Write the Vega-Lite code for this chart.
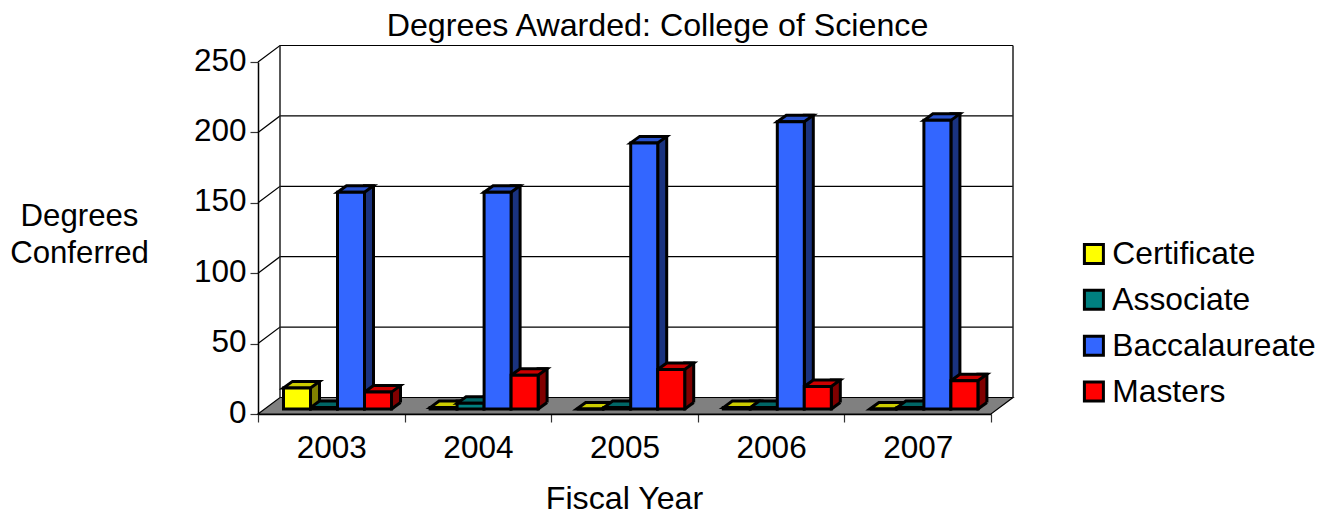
{"$schema":"https://vega.github.io/schema/vega-lite/v6.json","width":733,"height":352,"autosize":{"type":"none"},"padding":{"left":258,"top":62,"right":334,"bottom":102},"background":"white",
"config":{"view":{"stroke":null},"font":"Liberation Sans"},
"title":{"text":"Degrees Awarded: College of Science","font":"Liberation Sans","fontSize":32.2,"fontWeight":"normal","color":"black","anchor":"middle","dx":33,"dy":48.5,"offset":16,"baseline":"bottom"},
"data":{"values":[
{"year":"2003","level":"Certificate","value":15},{"year":"2003","level":"Associate","value":1},{"year":"2003","level":"Baccalaureate","value":154},{"year":"2003","level":"Masters","value":12},
{"year":"2004","level":"Certificate","value":1},{"year":"2004","level":"Associate","value":4},{"year":"2004","level":"Baccalaureate","value":154},{"year":"2004","level":"Masters","value":24},
{"year":"2005","level":"Certificate","value":0},{"year":"2005","level":"Associate","value":1},{"year":"2005","level":"Baccalaureate","value":189},{"year":"2005","level":"Masters","value":28},
{"year":"2006","level":"Certificate","value":1},{"year":"2006","level":"Associate","value":1},{"year":"2006","level":"Baccalaureate","value":204},{"year":"2006","level":"Masters","value":16},
{"year":"2007","level":"Certificate","value":0},{"year":"2007","level":"Associate","value":1},{"year":"2007","level":"Baccalaureate","value":205},{"year":"2007","level":"Masters","value":20}]},
"encoding":{
"x":{"field":"year","type":"nominal","scale":{"type":"band","domain":["2003","2004","2005","2006","2007"],"paddingInner":0,"paddingOuter":0},"axis":{"title":"Fiscal Year","titleFont":"Liberation Sans","titleFontSize":32.2,"titleFontWeight":"normal","titleColor":"black","titleX":366,"titleY":101,"titleBaseline":"bottom","labelFont":"Liberation Sans","labelFontSize":31.5,"labelColor":"black","labelAngle":0,"labelPadding":10,"tickBand":"extent","tickSize":8,"tickColor":"#333333","tickWidth":1.2,"domainColor":"black","domainWidth":1.5,"labelBaseline":"top"}},
"y":{"field":"value","type":"quantitative","scale":{"domain":[0,250],"nice":false},"axis":{"title":["Degrees","Conferred"],"titleFont":"Liberation Sans","titleFontSize":31.2,"titleFontWeight":"normal","titleColor":"black","titleAngle":0,"titleAlign":"center","titleBaseline":"middle","titleX":-179,"titleY":154,"titleLineHeight":37,"labelFont":"Liberation Sans","labelFontSize":31.5,"labelColor":"black","labelPadding":4,"labelOffset":-1,"values":[0,50,100,150,200,250],"grid":false,"tickSize":8,"tickColor":"#333333","tickWidth":1.2,"domainColor":"black","domainWidth":1.5}}
},
"resolve":{"scale":{"fill":"independent","xOffset":"independent"}},
"layer":[
{"mark":{"type":"point","shape":"M0 0 L22 -16.5 L755 -16.5 L733 0 Z","size":4,"filled":true,"fill":"#808080","stroke":"black","strokeWidth":1.2,"opacity":1},
 "data":{"values":[{"year":"2003","value":0}]},
 "encoding":{"x":{"field":"year","type":"nominal","bandPosition":0},"y":{"field":"value","type":"quantitative"}}},
{"mark":{"type":"point","shape":"M0 0 L22 -16.5 L755 -16.5","size":4,"filled":false,"stroke":"black","strokeWidth":1.2,"opacity":1},
 "data":{"values":[{"year":"2003","value":50},{"year":"2003","value":100},{"year":"2003","value":150},{"year":"2003","value":200},{"year":"2003","value":250}]},
 "encoding":{"x":{"field":"year","type":"nominal","bandPosition":0},"y":{"field":"value","type":"quantitative"}}},
{"mark":{"type":"point","shape":"M22 -16.5 V-368.5 M755 -16.5 V-368.5","size":4,"filled":false,"stroke":"#222222","strokeWidth":1.5,"opacity":1},
 "data":{"values":[{"year":"2003","value":0}]},
 "encoding":{"x":{"field":"year","type":"nominal","bandPosition":0},"y":{"field":"value","type":"quantitative"}}},
{"mark":{"type":"bar","width":9,"yOffset":-11.5,"y2Offset":-5,"stroke":"black","strokeWidth":3},
 "encoding":{"y2":{"datum":0},"xOffset":{"field":"level","sort":["Certificate","Associate","Baccalaureate","Masters"],"scale":{"domain":["Certificate","Associate","Baccalaureate","Masters"],"range":[43.5,151.5]}},
  "fill":{"field":"level","type":"nominal","legend":null,"scale":{"domain":["Certificate","Associate","Baccalaureate","Masters"],"range":["#808000","#004040","#1A3380","#800000"]}}}},
{"mark":{"type":"point","shape":"M13.5 2 H25 V-6.5 L22.5 -6.5 Z","size":4,"filled":true,"fill":"#808080","stroke":null,"opacity":1,"yOffset":-5},
 "encoding":{"y":{"datum":0},"xOffset":{"field":"level","sort":["Certificate","Associate","Baccalaureate","Masters"],"scale":{"domain":["Certificate","Associate","Baccalaureate","Masters"],"range":[25.5,133.5]}}}},
{"mark":{"type":"point","shape":"M13.5 0 L22.5 -6.5","size":4,"filled":false,"stroke":"black","strokeWidth":3,"opacity":1,"yOffset":-5},
 "encoding":{"y":{"datum":0},"xOffset":{"field":"level","sort":["Certificate","Associate","Baccalaureate","Masters"],"scale":{"domain":["Certificate","Associate","Baccalaureate","Masters"],"range":[25.5,133.5]}}}},
{"mark":{"type":"point","shape":"M-13.5 0 L-4.5 -6.5 L22.5 -6.5 L13.5 0 Z","size":4,"filled":true,"stroke":"black","strokeWidth":3,"opacity":1,"yOffset":-5},
 "encoding":{"xOffset":{"field":"level","sort":["Certificate","Associate","Baccalaureate","Masters"],"scale":{"domain":["Certificate","Associate","Baccalaureate","Masters"],"range":[25.5,133.5]}},
  "fill":{"field":"level","type":"nominal","legend":null,"scale":{"domain":["Certificate","Associate","Baccalaureate","Masters"],"range":["#CCCC00","#006666","#2952CC","#CC0000"]}}}},
{"mark":{"type":"bar","yOffset":-5,"y2Offset":-5,"stroke":"black","strokeWidth":3},
 "encoding":{"y2":{"datum":0},"xOffset":{"field":"level","sort":["Certificate","Associate","Baccalaureate","Masters"],"scale":{"domain":["Certificate","Associate","Baccalaureate","Masters"],"range":[25.5,133.5]}},
  "fill":{"field":"level","type":"nominal","scale":{"domain":["Certificate","Associate","Baccalaureate","Masters"],"range":["#FFFF00","#008080","#3366FF","#FF0000"]},
   "legend":{"title":null,"orient":"none","legendX":820,"legendY":176,"symbolType":"square","symbolSize":361,"symbolStrokeColor":"black","symbolStrokeWidth":3,"symbolOpacity":1,"labelFont":"Liberation Sans","labelFontSize":31.8,"labelColor":"black","labelOffset":2.5,"labelLimit":300,"rowPadding":12.9,"padding":0}}}}
]}
